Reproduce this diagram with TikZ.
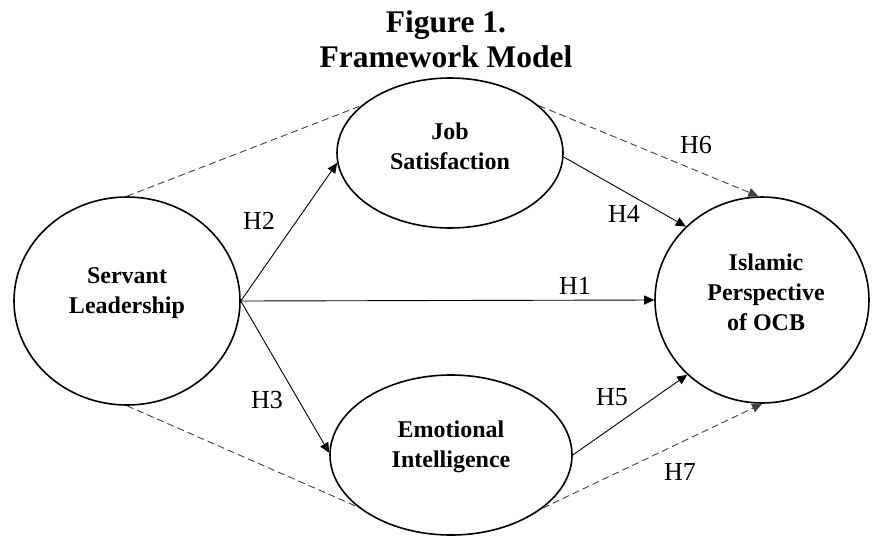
\documentclass[tikz,border=0pt]{standalone}
\usepackage{fontspec}
\setmainfont{Liberation Serif}
\usetikzlibrary{arrows.meta, shapes.geometric}

\begin{document}
\begin{tikzpicture}[
  x=1pt, y=-1pt,
  construct/.style={draw, ellipse, line width=1.6pt, inner sep=0pt},
  ctext/.style={font=\fontsize{24}{30}\selectfont\bfseries, align=center, inner sep=0pt},
  hyp/.style={font=\fontsize{26}{30}\selectfont, inner sep=0pt},
  arr/.style={line width=0.9pt, -{Triangle[length=10pt, width=9pt]}},
  link/.style={line width=0.9pt, black!75, dash pattern=on 7pt off 4pt}]
\useasboundingbox (0,0) rectangle (872,536);
\node[font=\fontsize{31.5}{35}\selectfont\bfseries, align=center, inner sep=0pt] (title) at (446,39) {Figure 1.\\Framework Model};
\node[construct, minimum width=226pt, minimum height=208pt] (sl) at (127,301) {};
\node[construct, minimum width=226pt, minimum height=150pt] (js) at (450,153) {};
\node[construct, minimum width=242pt, minimum height=160pt] (ei) at (451,455) {};
\node[construct, minimum width=214pt, minimum height=206pt] (ocb) at (762,300) {};
\node[ctext] (sltext) at ([yshift=8pt]sl.center) {Servant\\Leadership};
\node[ctext] (jstext) at ([yshift=7pt]js.center) {Job\\Satisfaction};
\node[ctext] (eitext) at ([yshift=8pt]ei.center) {Emotional\\Intelligence};
\node[ctext] (ocbtext) at ([xshift=4pt, yshift=8pt]ocb.center) {Islamic\\Perspective\\of OCB};
\draw[arr] (sl.east) -- (ocb.180);
\draw[arr] (sl.east) -- (js.185);
\draw[arr] (sl.east) -- (ei.179);
\draw[arr] (js.358) -- (ocb.136);
\draw[arr] (ei.0) -- (ocb.225);
\draw[link, arr] (js.28) -- (ocb.92);
\draw[link, arr] (ei.330) -- (ocb.270);
\draw[link] (sl.north) -- (js.152);
\draw[link] (sl.south) -- (ei.209);
\node[hyp] (h1) at (575,286) {H1};
\node[hyp] (h2) at (259,221) {H2};
\node[hyp] (h3) at (267,400) {H3};
\node[hyp] (h4) at (624,214) {H4};
\node[hyp] (h5) at (612,397) {H5};
\node[hyp] (h6) at (696,145) {H6};
\node[hyp] (h7) at (680,472) {H7};
\end{tikzpicture}
\end{document}
